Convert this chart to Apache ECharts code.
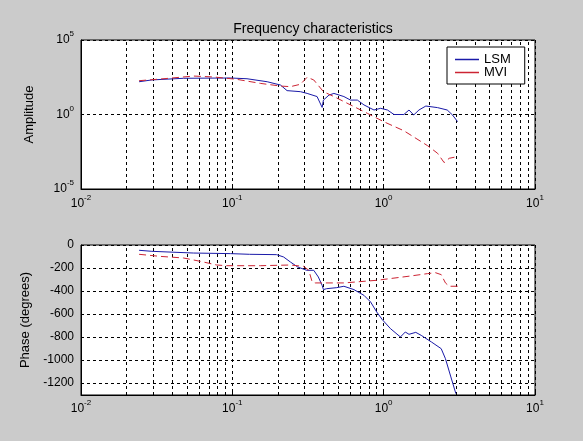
<!DOCTYPE html>
<html>
<head>
<meta charset="utf-8">
<script src="https://cdn.jsdelivr.net/npm/echarts@6/dist/echarts.min.js"></script>
<style>
html, body { margin: 0; padding: 0; background: #cbcbcb; }
#main { width: 583px; height: 441px; }
</style>
</head>
<body>
<div id="main"></div>
<script>
/*-----------------------------data-----------------------------*/
// 幅频: LSM
var lsmAmpFreq = [0.0242, 0.0294, 0.0476, 0.097, 0.125, 0.17, 0.208, 0.23, 0.282, 0.312, 0.363, 0.392, 0.40, 0.435, 0.469, 0.546, 0.604, 0.67, 0.741, 0.863, 0.955, 1.06, 1.17, 1.36, 1.47, 1.58, 1.71, 1.9, 2.27, 2.63, 2.85, 3.08];
var lsmAmp = [158, 209, 269, 282, 251, 158, 95, 40, 34, 26, 16, 3.0, 9.3, 20, 26, 16, 9.3, 9.3, 4.4, 2.0, 2.6, 2.0, 1.0, 1.0, 2.0, 0.93, 2.0, 3.7, 2.9, 2.0, 0.93, 0.33];
// 幅频: MVI
var mviAmpFreq = [0.0242, 0.0334, 0.0555, 0.0752, 0.107, 0.153, 0.208, 0.242, 0.282, 0.312, 0.345, 0.40, 0.469, 0.604, 0.78, 1.0, 1.36, 1.95, 2.27, 2.51, 2.71, 3.08];
var mviAmp = [186, 240, 380, 331, 229, 123, 81, 74, 107, 316, 209, 34, 16, 4.4, 1.2, 0.33, 0.081, 0.0081, 0.0025, 0.00059, 0.00115, 0.0015];
// 相频: LSM
var lsmPhaseFreq = [0.0242, 0.0294, 0.0555, 0.097, 0.13, 0.196, 0.218, 0.242, 0.27, 0.31, 0.345, 0.37, 0.392, 0.40, 0.42, 0.49, 0.546, 0.636, 0.741, 0.82, 0.9, 0.98, 1.11, 1.29, 1.39, 1.47, 1.63, 1.77, 2.07, 2.4, 2.56, 2.78, 3.0];
var lsmPhase = [-46, -55, -70, -75, -81, -84, -104, -148, -191, -220, -220, -278, -351, -388, -380, -371, -359, -388, -438, -496, -583, -650, -728, -800, -757, -777, -760, -786, -844, -902, -989, -1148, -1293];
// 相频: MVI
var mviPhaseFreq = [0.0242, 0.0334, 0.0476, 0.0614, 0.079, 0.0915, 0.153, 0.242, 0.296, 0.32, 0.337, 0.353, 0.546, 0.9, 1.5, 1.95, 2.2, 2.4, 2.56, 2.71, 3.08];
var mviPhase = [-81, -99, -113, -142, -174, -180, -180, -174, -186, -220, -322, -330, -330, -307, -270, -249, -241, -258, -330, -359, -359];

// 刻度
var phaseTicks = [0, -200, -400, -600, -800, -1000, -1200];
var minorFreq = [0.02, 0.03, 0.04, 0.05, 0.06, 0.07, 0.08, 0.09,
                 0.2, 0.3, 0.4, 0.5, 0.6, 0.7, 0.8, 0.9,
                 2, 3, 4, 5, 6, 7, 8, 9];

/*-----------------------------main-----------------------------*/
var font = 'Liberation Sans, Arial, sans-serif';
var blue = '#1a1aa8';
var red = '#cc2433';

function pairs(xs, ys) {
    return xs.map(function (x, i) { return [x, ys[i]]; });
}

// 10^n 上标标签
function powLabel(v) {
    var e = Math.round(Math.log(v) / Math.LN10);
    return '{b|10}{s|' + e + '}';
}
var powRich = {
    b: { fontSize: 12, lineHeight: 20, fontFamily: font, color: '#000' },
    s: { fontSize: 8, lineHeight: 10, verticalAlign: 'top', fontFamily: font, color: '#000' }
};

var dashed = { color: '#000', type: [3, 3], width: 1 };

function logX(grid, margin) {
    return {
        type: 'log', logBase: 10, gridIndex: grid,
        min: 0.01, max: 10,
        axisLine: { show: true, onZero: false, lineStyle: { color: '#000' } },
        axisTick: { show: true, inside: true, length: 3, lineStyle: { color: '#000' } },
        axisLabel: { margin: margin, formatter: powLabel, rich: powRich },
        splitLine: { show: true, lineStyle: dashed }
    };
}

function gridLines() {
    return {
        silent: true, symbol: 'none', z: 1, animation: false,
        label: { show: false },
        lineStyle: dashed,
        emphasis: { disabled: true },
        data: minorFreq.map(function (v) { return { xAxis: v }; })
    };
}

var myChart = echarts.init(document.getElementById('main'));
var option = {
    animation: false,
    backgroundColor: '#cbcbcb',
    textStyle: { fontFamily: font },
    title: {
        text: 'Frequency characteristics',
        left: 308, top: 17, textAlign: 'center',
        textStyle: { fontSize: 14, fontWeight: 'normal', color: '#000', fontFamily: font }
    },
    legend: {
        orient: 'vertical',
        left: 447, top: 47,
        data: ['LSM', 'MVI'],
        icon: 'rect', itemWidth: 24, itemHeight: 1.5, itemGap: 0,
        padding: [6, 14, 5, 8],
        backgroundColor: '#fff', borderColor: '#000', borderWidth: 1,
        textStyle: { fontSize: 13, lineHeight: 12, color: '#000', fontFamily: font },
        selectedMode: false
    },
    grid: [
        { left: 81, top: 40, width: 454, height: 149, show: true, backgroundColor: '#fff', borderColor: '#000', borderWidth: 1 },
        { left: 81, top: 245, width: 454, height: 150, show: true, backgroundColor: '#fff', borderColor: '#000', borderWidth: 1 }
    ],
    xAxis: [logX(0, 5), logX(1, 4)],
    yAxis: [
        {
            type: 'log', logBase: 10, gridIndex: 0,
            min: 1e-5, max: 1e5, interval: 5,
            name: 'Amplitude', nameLocation: 'middle', nameGap: 45,
            nameTextStyle: { fontSize: 13, color: '#000', fontFamily: font },
            axisLine: { show: true, lineStyle: { color: '#000' } },
            axisTick: { show: true, inside: true, length: 3, lineStyle: { color: '#000' } },
            axisLabel: { margin: 7, formatter: powLabel, rich: powRich },
            splitLine: { show: true, lineStyle: dashed }
        },
        {
            type: 'value', gridIndex: 1,
            min: -1305, max: 0, splitNumber: 7,
            name: 'Phase (degrees)', nameLocation: 'middle', nameGap: 45,
            nameTextStyle: { fontSize: 13, color: '#000', fontFamily: font },
            axisLine: { show: true, lineStyle: { color: '#000' } },
            axisTick: { show: true, inside: true, length: 3, lineStyle: { color: '#000' } },
            axisLabel: {
                margin: 7, fontSize: 12, color: '#000', fontFamily: font,
                formatter: function (v) { return phaseTicks.indexOf(v) >= 0 ? String(v) : ''; }
            },
            splitLine: { show: true, lineStyle: dashed }
        }
    ],
    series: [
        {
            name: 'LSM', type: 'line', xAxisIndex: 0, yAxisIndex: 0,
            data: pairs(lsmAmpFreq, lsmAmp),
            showSymbol: false, symbol: 'none', color: blue,
            lineStyle: { width: 1, color: blue },
            markLine: gridLines()
        },
        {
            name: 'MVI', type: 'line', xAxisIndex: 0, yAxisIndex: 0,
            data: pairs(mviAmpFreq, mviAmp),
            showSymbol: false, symbol: 'none', color: red,
            lineStyle: { width: 1, color: red, type: [7, 4] }
        },
        {
            name: 'LSM', type: 'line', xAxisIndex: 1, yAxisIndex: 1,
            data: pairs(lsmPhaseFreq, lsmPhase),
            showSymbol: false, symbol: 'none', color: blue,
            lineStyle: { width: 1, color: blue },
            markLine: gridLines()
        },
        {
            name: 'MVI', type: 'line', xAxisIndex: 1, yAxisIndex: 1,
            data: pairs(mviPhaseFreq, mviPhase),
            showSymbol: false, symbol: 'none', color: red,
            lineStyle: { width: 1, color: red, type: [7, 4] }
        }
    ]
};
myChart.setOption(option);
</script>
</body>
</html>
